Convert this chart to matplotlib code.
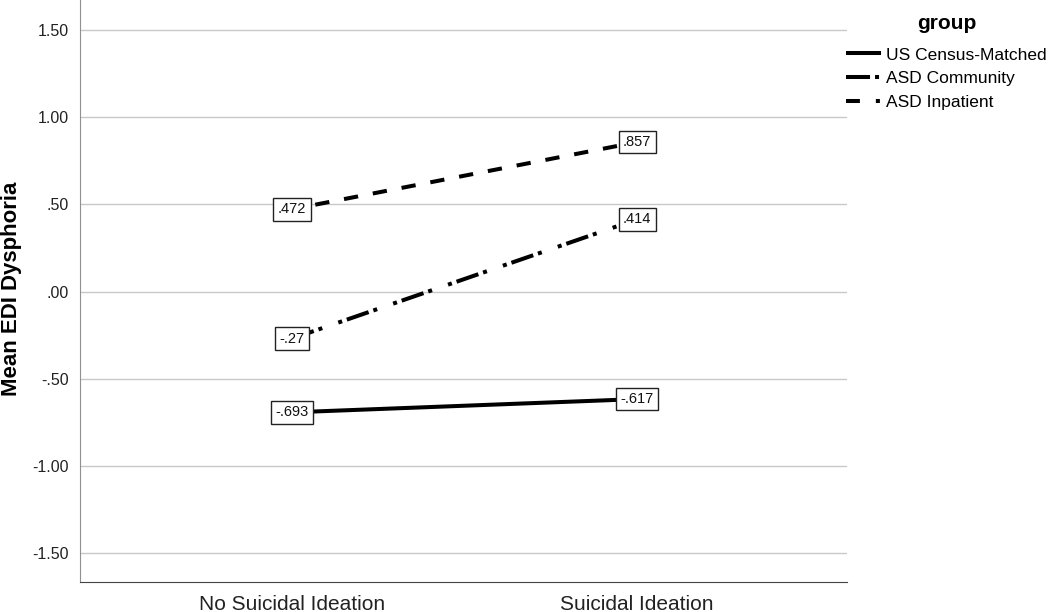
import matplotlib.pyplot as plt
from matplotlib.lines import Line2D
import numpy as np

plt.rcParams['font.family'] = ['Liberation Sans', 'DejaVu Sans']
plt.rcParams['lines.scale_dashes'] = False

categories = ['No Suicidal Ideation', 'Suicidal Ideation']
groups = ['US Census-Matched', 'ASD Community', 'ASD Inpatient']
census = [-0.693, -0.617]
community = [-0.27, 0.414]
inpatient = [0.472, 0.857]
value_labels = [['-.693', '-.617'], ['-.27', '.414'], ['.472', '.857']]
yticks = [1.5, 1.0, 0.5, 0.0, -0.5, -1.0, -1.5]
ytick_labels = ['1.50', '1.00', '.50', '.00', '-.50', '-1.00', '-1.50']

fig = plt.figure(figsize=(10.5, 6.12), dpi=100)
ax = fig.add_axes([80 / 1050, 30 / 612, 767 / 1050, 582 / 612])

x = np.arange(len(categories))
lw = 2.9
styles = [(0, ()), (0, (16.6, 3.6, 2.9, 12.2, 2.9, 3.6)), (4, (10.3, 10.8))]
legend_styles = [(0, ()), (0, (17.3, 3.6, 2.9, 30)), (0, (10, 11.5, 2.9, 30))]
series = [census, community, inpatient]
for vals, name, ls, labs in zip(series, groups, styles, value_labels):
    ax.plot(x, vals, color='black', lw=lw, linestyle=ls, label=name,
            solid_capstyle='butt', dash_capstyle='butt', zorder=3)
    for xi, v, t in zip(x, vals, labs):
        ax.text(xi, v, t, ha='center', va='center', fontsize=10.5, zorder=4,
                color='#111111',
                bbox=dict(boxstyle='square,pad=0.3', fc='white', ec='#222222', lw=1))

ax.set_xlim(-0.614, 1.608)
ax.set_ylim(-1.666, 1.672)
ax.set_yticks(yticks)
ax.set_yticklabels(ytick_labels)
ax.set_xticks(x)
ax.set_xticklabels(categories)
ax.tick_params(axis='both', length=0, colors='#222222')
ax.tick_params(axis='y', labelsize=11.5, pad=8)
ax.tick_params(axis='x', labelsize=15, pad=9)
ax.yaxis.grid(True, color='#c8c8c8', lw=1)
ax.set_axisbelow(True)
for s in ['top', 'right']:
    ax.spines[s].set_visible(False)
ax.spines['left'].set_color('#909090')
ax.spines['bottom'].set_color('#444444')

# y label placed by hand so it stays inside the figure
fig.text(12 / 1050, 1 - 289 / 612, 'Mean EDI Dysphoria', rotation=90,
         ha='center', va='center', fontsize=16, fontweight='bold')

handles = [Line2D([], [], color='black', lw=lw, linestyle=ls, dash_capstyle='butt',
                  solid_capstyle='butt') for ls in legend_styles]
leg = fig.legend(handles, groups, loc='upper left',
                 bbox_to_anchor=(843 / 1050, 1 - 11 / 612), title='group',
                 frameon=False, fontsize=12.5, handlelength=1.96,
                 handletextpad=0.3, labelspacing=0.5, borderaxespad=0,
                 borderpad=0.2)
leg.get_title().set_fontweight('bold')
leg.get_title().set_fontsize(15)
leg._legend_box.sep = 10

fig.savefig('out.png', dpi=100)
